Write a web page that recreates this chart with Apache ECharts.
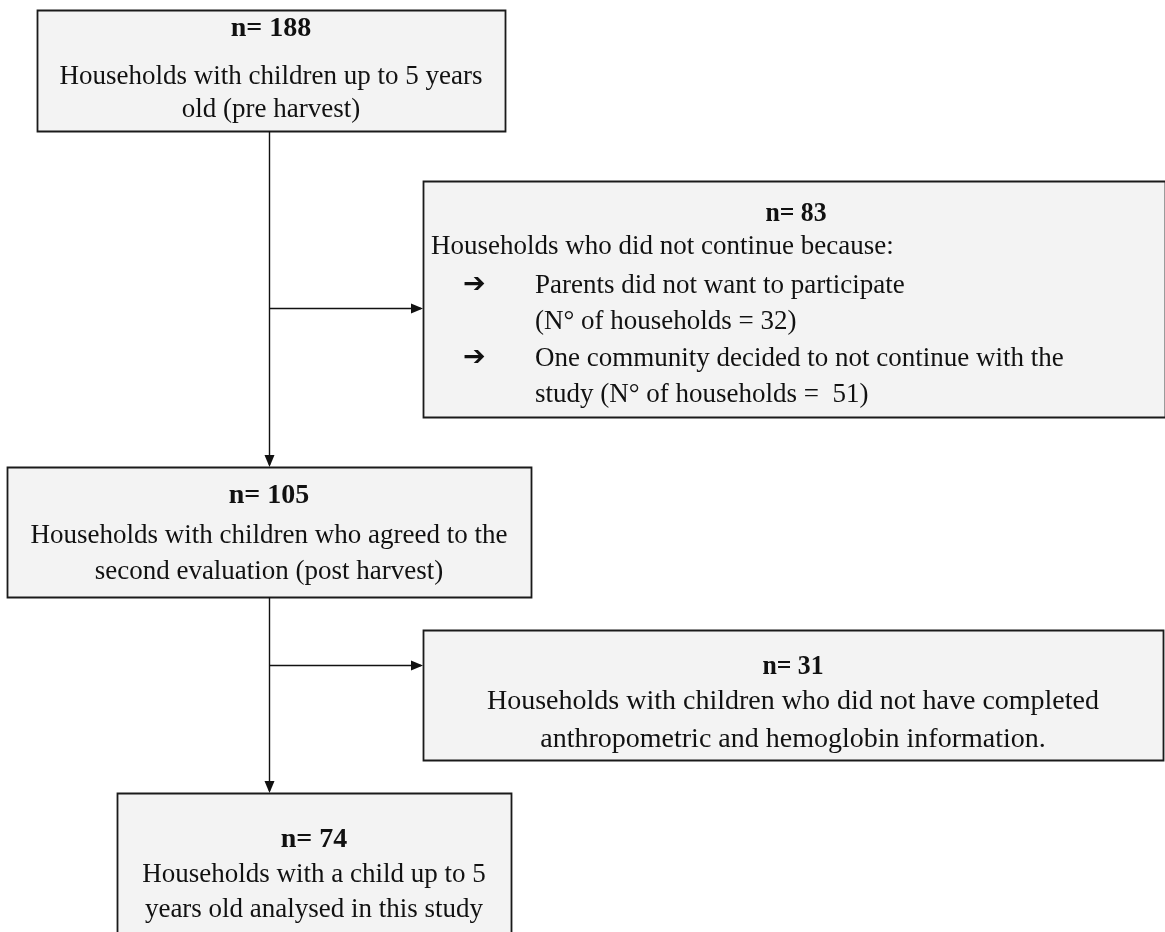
<!DOCTYPE html>
<html>
<head>
<meta charset="utf-8">
<style>
  html, body { margin: 0; padding: 0; background: #ffffff; }
  #chart { width: 1165px; height: 932px; }
</style>
<script src="https://cdn.jsdelivr.net/npm/echarts@6/dist/echarts.min.js"></script>
</head>
<body>
<div id="chart"></div>
<script>
// flow counts, top to bottom: main path and the two drop-out boxes
const stepCounts = [188, 105, 74]
const dropCounts = [83, 31]

const stepLines = [
    ['Households with children up to 5 years', 'old (pre harvest)'],
    ['Households with children who agreed to the', 'second evaluation (post harvest)'],
    ['Households with a child up to 5', 'years old analysed in this study']
]
const dropIntro = 'Households who did not continue because:'
const dropReasons = [
    ['Parents did not want to participate', '(N\u00b0 of households = 32)'],
    ['One community decided to not continue with the', 'study (N\u00b0 of households =  51)']
]
const secondDropLines = ['Households with children who did not have completed', 'anthropometric and hemoglobin information.']

// layout (pixels)
const spineX = 269
const stepBoxes = [
    { x: 37, y: 10, w: 468, h: 121, rows: [29, 77, 110] },
    { x: 7, y: 467, w: 524, h: 130, rows: [496, 536, 572] },
    { x: 117, y: 793, w: 394, h: 160, rows: [840, 875, 910] }
]
const dropBoxes = [
    { x: 423, y: 181, w: 742, h: 236, branchY: 308 },
    { x: 423, y: 630, w: 740, h: 130, branchY: 665 }
]

const FONT = '"Liberation Serif", "Times New Roman", serif'
const fill = '#f3f3f3'
const border = '#1a1a1a'

const chart = echarts.init(document.getElementById('chart'), null, { renderer: 'canvas' })

let g = []

function boxRect(b) {
    return {
        type: 'rect',
        shape: { x: b.x + 0.5, y: b.y + 0.5, width: b.w, height: b.h },
        style: { fill: fill, stroke: border, lineWidth: 1.8 },
        z: 1
    }
}

function txt(str, x, y, opts) {
    opts = opts || {}
    return {
        type: 'text',
        x: x,
        y: y,
        scaleX: opts.scaleX || 1,
        style: {
            text: str,
            font: (opts.bold ? 'bold ' : '') + (opts.size || 27) + 'px ' + (opts.family || FONT),
            fill: '#111',
            align: opts.align || 'center',
            verticalAlign: 'middle'
        },
        z: 3
    }
}

function arrowHead(x, y, dir) {
    // dir 'down' or 'right', tip at (x, y)
    let pts = dir === 'down'
        ? [[x - 5, y - 12], [x + 5, y - 12], [x, y]]
        : [[x - 12, y - 5], [x - 12, y + 5], [x, y]]
    return { type: 'polygon', shape: { points: pts }, style: { fill: '#111' }, z: 2 }
}

function vline(x, y1, y2) {
    return { type: 'line', shape: { x1: x + 0.5, y1: y1, x2: x + 0.5, y2: y2 }, style: { stroke: '#111', lineWidth: 1.4 }, z: 2 }
}

function hline(y, x1, x2) {
    return { type: 'line', shape: { x1: x1, y1: y + 0.5, x2: x2, y2: y + 0.5 }, style: { stroke: '#111', lineWidth: 1.4 }, z: 2 }
}

// main path boxes
stepBoxes.forEach((b, i) => {
    g.push(boxRect(b))
    let cx = b.x + b.w / 2
    g.push(txt('n= ' + stepCounts[i], cx, b.rows[0], { bold: true, size: 28 }))
    g.push(txt(stepLines[i][0], cx, b.rows[1]))
    g.push(txt(stepLines[i][1], cx, b.rows[2]))
})

// connectors between main boxes
for (let i = 0; i < stepBoxes.length - 1; i++) {
    let from = stepBoxes[i], to = stepBoxes[i + 1]
    g.push(vline(spineX, from.y + from.h, to.y - 2))
    g.push(arrowHead(spineX + 0.5, to.y, 'down'))
}

// drop-out boxes and branch arrows
dropBoxes.forEach((b, i) => {
    g.push(boxRect(b))
    g.push(hline(b.branchY, spineX, b.x - 2))
    g.push(arrowHead(b.x, b.branchY + 0.5, 'right'))
})

let d1 = dropBoxes[0]
g.push(txt('n= ' + dropCounts[0], 796, 214, { bold: true, size: 28, scaleX: 0.92 }))
g.push(txt(dropIntro, d1.x + 8, 247, { align: 'left' }))
let reasonRows = [[286, 322], [359, 395]]
dropReasons.forEach((r, i) => {
    g.push(txt('\u2794', d1.x + 40, reasonRows[i][0] - 1, { align: 'left', size: 27, bold: true, family: '"DejaVu Sans", sans-serif' }))
    g.push(txt(r[0], d1.x + 112, reasonRows[i][0], { align: 'left' }))
    g.push(txt(r[1], d1.x + 112, reasonRows[i][1], { align: 'left' }))
})

let d2 = dropBoxes[1]
let d2cx = d2.x + d2.w / 2
g.push(txt('n= ' + dropCounts[1], d2cx, 667, { bold: true, size: 28, scaleX: 0.92 }))
g.push(txt(secondDropLines[0], d2cx, 702, { size: 28 }))
g.push(txt(secondDropLines[1], d2cx, 740, { size: 28 }))

chart.setOption({
    backgroundColor: '#ffffff',
    animation: false,
    graphic: g
})
</script>
</body>
</html>
